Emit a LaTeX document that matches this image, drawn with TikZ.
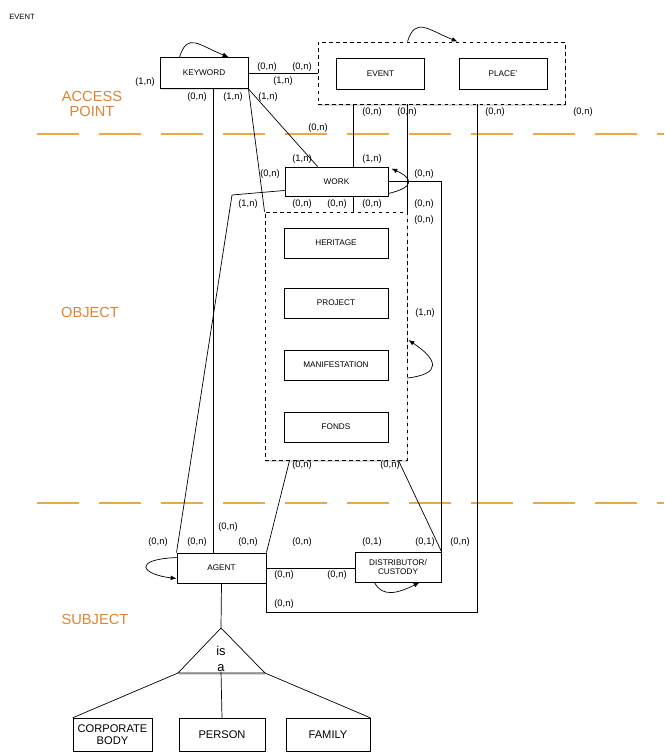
\documentclass[tikz,border=0pt]{standalone}
\usepackage{fontspec}
\setmainfont{Liberation Sans}
\usetikzlibrary{arrows.meta, calc, shadows}
\definecolor{bandcolor}{RGB}{234,168,72}
\definecolor{zonecolor}{RGB}{222,132,52}

\begin{document}
\begin{tikzpicture}[
    x=0.03cm, y=-0.03cm,
    entity/.style={draw, fill=white, line width=0.8pt, minimum width=2.64cm, minimum height=0.93cm, font=\fontsize{7}{8}\selectfont, align=center, inner sep=1pt, drop shadow={opacity=0.25, shadow xshift=0.6pt, shadow yshift=-1.2pt}},
    subtype/.style={entity, minimum width=2.5cm, minimum height=1.0cm, font=\fontsize{9.5}{10.5}\selectfont},
    group/.style={draw, dashed, line width=0.8pt, fill=white, drop shadow={opacity=0.3, shadow xshift=1pt, shadow yshift=-1.5pt}},
    card/.style={font=\fontsize{8}{9}\selectfont, inner sep=0pt},
    link/.style={line width=0.6pt},
    selfloop/.style={line width=0.6pt, -{Latex[length=5pt,width=4pt]}},
    band/.style={draw=bandcolor, line width=2.5pt, dash pattern=on 1.26cm off 0.6cm},
    zone/.style={text=zonecolor, font=\fontsize{12.5}{13}\selectfont, align=center, inner sep=0pt}
]
    \useasboundingbox (0,0) rectangle (664,752);

    % Layer bands
    \draw[band] (37,134) -- (664,134);
    \draw[band] (37,503) -- (664,503);
    \node[zone] (access) at (92,104) {ACCESS\\POINT};
    \node[zone] (object) at (90,312) {OBJECT};
    \node[zone] (subject) at (95,619) {SUBJECT};
    \node[font=\fontsize{6.5}{7}\selectfont, inner sep=0pt] (title) at (22,17) {EVENT};

    % Access point
    \node[entity] (keyword) at (204,73) {KEYWORD};
    \node[group, minimum width=7.41cm, minimum height=1.86cm] (evgroup) at (441.5,73) {};
    \node[entity] (event) at (380.5,73.5) {EVENT};
    \node[entity] (place) at (503,73.5) {PLACE'};

    % Object
    \node[entity, minimum width=3.09cm, minimum height=0.87cm] (work) at (336.5,181.5) {WORK};
    \node[group, minimum width=4.26cm, minimum height=7.44cm] (objgroup) at (336,336) {};
    \node[entity, minimum width=3.12cm, minimum height=0.9cm] (heritage) at (336,243) {HERITAGE};
    \node[entity, minimum width=3.12cm, minimum height=0.9cm] (project) at (336,303) {PROJECT};
    \node[entity, minimum width=3.12cm, minimum height=0.9cm] (manif) at (336,365) {MANIFESTATION};
    \node[entity, minimum width=3.12cm, minimum height=0.9cm] (fonds) at (336,427) {FONDS};

    % Subject
    \node[entity, minimum width=2.67cm, minimum height=0.9cm] (agent) at (221.5,568) {AGENT};
    \node[entity, minimum width=2.58cm, minimum height=0.9cm] (distrib) at (398,567) {DISTRIBUTOR/\\CUSTODY};
    \coordinate (isatop) at (221,628);
    \coordinate (isaleft) at (178,673);
    \coordinate (isaright) at (265,673);
    \draw[link, fill=white, drop shadow={opacity=0.3, shadow xshift=0.5pt, shadow yshift=-1.5pt}] (isatop) -- (isaleft) -- (isaright) -- cycle;
    \node[font=\fontsize{11}{13}\selectfont, align=center, inner sep=0pt] (isa) at (221,659) {is\\a};
    \node[subtype, minimum width=2.37cm] (corporate) at (112.5,735) {CORPORATE\\BODY};
    \node[subtype, minimum width=2.58cm] (person) at (222,735) {PERSON};
    \node[subtype, minimum width=2.52cm] (family) at (328,735) {FAMILY};

    % Relationships
    \draw[selfloop] ($(keyword.north west)+(20,0)$) .. controls +(8,-25) and +(-30,-12) .. ($(keyword.north east)+(-20,0)$);
    \draw[selfloop] ($(evgroup.north west)+(90,0)$) .. controls +(8,-25) and +(-30,-12) .. ($(evgroup.north west)+(140,0)$);
    \draw[link] (keyword.east) -- (evgroup.west);
    \coordinate (kwdrop) at ($(keyword.south west)+(54,0)$);
    \draw[link] (kwdrop) -- (kwdrop |- agent.north);
    \draw[link] (keyword.south east) -- (objgroup.north west);
    \draw[link] (keyword.south east) -- ($(work.north west)+(33,0)$);
    \coordinate (evdrop) at ($(work.north west)+(69,0)$);
    \draw[link] (evdrop |- evgroup.south) -- (evdrop);
    \draw[link] ($(work.south west)+(69,0)$) -- (evdrop |- objgroup.north);
    \draw[link] (objgroup.north east |- evgroup.south) -- (objgroup.north east);
    \coordinate (plturn) at ($(evgroup.south west)+(160,508)$);
    \draw[link] (plturn |- evgroup.south) -- (plturn) -| (agent.south east);
    \draw[link] (work.east) -| (distrib.north east);
    \draw[selfloop] ($(work.south east)+(0,-3)$) .. controls +(26,-6) and +(22,10) .. ($(work.north east)+(3,2)$);
    \draw[selfloop] ($(objgroup.east)+(0,42)$) .. controls +(34,-4) and +(30,20) .. ($(objgroup.east)+(1,4)$);
    \draw[link] ($(objgroup.south west)+(25,0)$) -- (agent.north east);
    \draw[link] ($(objgroup.south east)+(-9,0)$) -- (distrib.north east);
    \coordinate (workbend) at (232,195);
    \draw[link] ($(work.south west)+(0,-6)$) -- (workbend) -- (agent.north west);
    \draw[link] (agent.east) -- (distrib.west |- agent.east);
    \draw[selfloop] ($(agent.north west)+(0,5)$) .. controls +(-45,2) and +(-35,-4) .. ($(agent.south west)+(0,-5)$);
    \draw[selfloop] ($(distrib.south west)+(20,0)$) .. controls +(8,16) and +(-20,10) .. ($(distrib.south east)+(-22,0)$);
    \draw[link] (agent.south) -- (isatop);
    \draw[link] (isaleft) -- (corporate.north west);
    \draw[link] (isa.south) -- (person.north);
    \draw[link] (isaright) -- (family.north east);

    % Cardinalities
    \foreach \x/\y/\t [count=\i] in {267/67/{(0,n)}, 302/67/{(0,n)}, 283/81/{(1,n)}, 145/82/{(1,n)},
        197/97/{(0,n)}, 233/97/{(1,n)}, 268/97/{(1,n)}, 372/112/{(0,n)}, 407/112/{(0,n)},
        495/112/{(0,n)}, 583/112/{(0,n)}, 318/128/{(0,n)}, 302/159/{(1,n)}, 372/159/{(1,n)},
        270/174/{(0,n)}, 424/174/{(0,n)}, 248/204/{(1,n)}, 302/204/{(0,n)}, 337/204/{(0,n)},
        372/204/{(0,n)}, 424/204/{(0,n)}, 424/220/{(0,n)}, 425/313/{(1,n)}, 302/465/{(0,n)},
        390/465/{(0,n)}, 228/527/{(0,n)}, 158/542/{(0,n)}, 197/542/{(0,n)}, 248/542/{(0,n)},
        302/542/{(0,n)}, 372/542/{(0,1)}, 425/542/{(0,1)}, 460/542/{(0,n)}, 284/575/{(0,n)},
        337/575/{(0,n)}, 284/604/{(0,n)}}
        \node[card] (card\i) at (\x,\y) {\t};

\end{tikzpicture}
\end{document}
